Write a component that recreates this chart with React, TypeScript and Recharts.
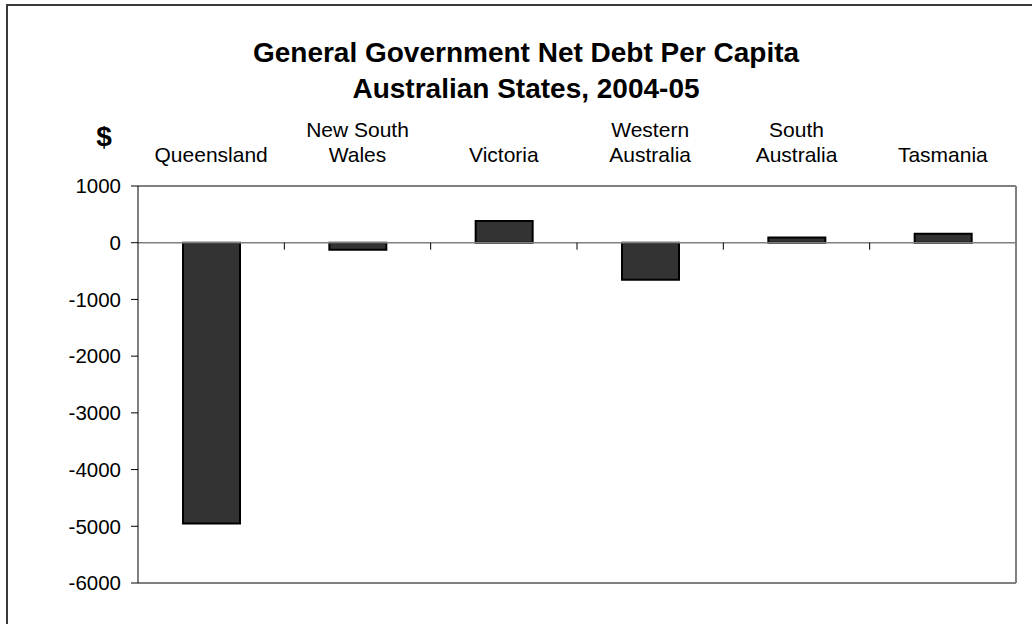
import React from 'react';
import { BarChart, Bar, XAxis, YAxis, ReferenceLine } from 'recharts';

// --- data ---
const states = ['Queensland', 'New South Wales', 'Victoria', 'Western Australia', 'South Australia', 'Tasmania'];
const netDebt = [-4950, -125, 385, -655, 92, 157];
const yTicks = [-6000, -5000, -4000, -3000, -2000, -1000, 0, 1000];

const data = states.map((name, i) => ({ name, debt: netDebt[i] }));

const FONT = '"Liberation Sans", Arial, sans-serif';

// category label above the plot, wrapped on the last space, bottom aligned
const StateTick = (props: any) => {
  const { x, y, payload } = props;
  const label: string = payload.value;
  const cut = label.lastIndexOf(' ');
  const lines = label.includes(' ') && label.length > 10 ? [label.slice(0, cut), label.slice(cut + 1)] : [label];
  const base = y - 24;
  return (
    <g>
      {lines.map((l, i) => (
        <text key={i} x={x} y={base - (lines.length - 1 - i) * 25} textAnchor="middle" fontSize={21} fontFamily={FONT} fill="#000">
          {l}
        </text>
      ))}
    </g>
  );
};

// zero line with small ticks at the category boundaries
const ZeroLine = (props: any) => {
  const { x1, y1, x2, y2 } = props;
  const step = (x2 - x1) / states.length;
  return (
    <g>
      <line x1={x1} y1={y1} x2={x2} y2={y2} stroke="#808080" strokeWidth={1.5} />
      {states.slice(1).map((_, i) => (
        <line key={i} x1={x1 + step * (i + 1)} y1={y1} x2={x1 + step * (i + 1)} y2={y1 + 7} stroke="#000" strokeWidth={1} />
      ))}
    </g>
  );
};

export default function App() {
  return (
    <div style={{ position: 'absolute', left: 0, top: 0, width: 1032, height: 624, overflow: 'hidden', background: '#fff' }}>
      <div style={{ position: 'absolute', left: 6, top: 4, width: 1100, height: 700, border: '2px solid #3a3a3a', boxSizing: 'border-box' }} />
      <svg width={1032} height={180} style={{ position: 'absolute', left: 0, top: 0 }}>
        <text x={526} y={62} textAnchor="middle" fontSize={28} fontWeight="bold" fontFamily={FONT} fill="#000">
          General Government Net Debt Per Capita
        </text>
        <text x={526} y={98} textAnchor="middle" fontSize={28} fontWeight="bold" fontFamily={FONT} fill="#000">
          Australian States, 2004-05
        </text>
        <text x={104} y={146} textAnchor="middle" fontSize={28} fontWeight="bold" fontFamily={FONT} fill="#000">
          $
        </text>
      </svg>
      <div style={{ position: 'absolute', left: 0, top: 0 }}>
        <BarChart width={1032} height={624} data={data} margin={{ top: 106, right: 15, bottom: 40, left: 0 }}>
          <XAxis
            dataKey="name"
            orientation="top"
            height={80}
            tickSize={0}
            tickMargin={0}
            tickLine={false}
            axisLine={{ stroke: '#808080', strokeWidth: 2 }}
            tick={<StateTick />}
            interval={0}
          />
          <XAxis
            xAxisId="bottom"
            dataKey="name"
            orientation="bottom"
            height={1}
            tick={false}
            tickLine={false}
            axisLine={{ stroke: '#808080', strokeWidth: 2 }}
          />
          <YAxis
            type="number"
            domain={[-6000, 1000]}
            ticks={yTicks}
            width={138}
            tickSize={7}
            tickMargin={10}
            interval={0}
            axisLine={{ stroke: '#000', strokeWidth: 1 }}
            tickLine={{ stroke: '#000', strokeWidth: 1 }}
            tick={{ fill: '#000', fontSize: 20.5, fontFamily: FONT }}
          />
          <YAxis
            yAxisId="right"
            orientation="right"
            type="number"
            domain={[-6000, 1000]}
            width={1}
            tick={false}
            tickLine={false}
            axisLine={{ stroke: '#808080', strokeWidth: 2 }}
          />
          <ReferenceLine y={0} shape={<ZeroLine />} />
          <Bar dataKey="debt" fill="#333333" stroke="#000" strokeWidth={2} barSize={57} isAnimationActive={false} />
        </BarChart>
      </div>
    </div>
  );
}
